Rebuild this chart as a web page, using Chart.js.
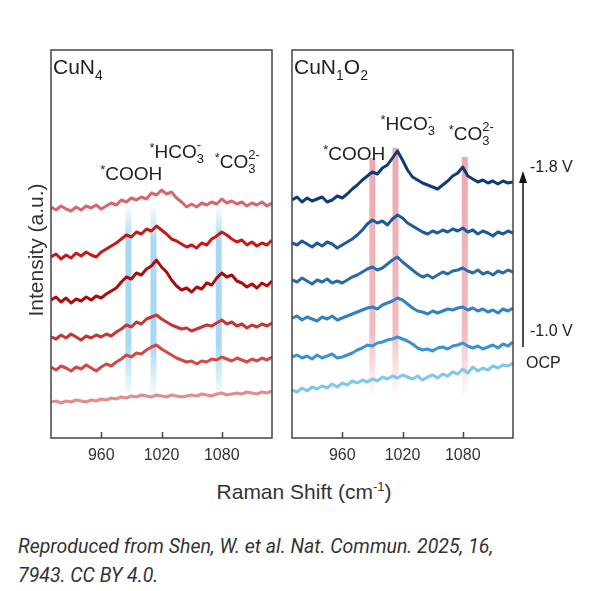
<!DOCTYPE html>
<html>
<head>
<meta charset="utf-8">
<script src="https://cdn.jsdelivr.net/npm/chart.js@4.4.1/dist/chart.umd.min.js"></script>
<style>
body{margin:0;background:#fff;}
#wrap{position:relative;width:600px;height:591px;background:#fff;font-family:"Liberation Sans",Arial,sans-serif;color:#333;overflow:hidden;}
canvas{position:absolute;}
#cL{left:41px;top:40px;}
#cR{left:282px;top:40px;}
.t{position:absolute;white-space:nowrap;}
#ytitle{left:-64px;top:238px;width:200px;height:24px;line-height:24px;text-align:center;font-size:21px;transform:rotate(-90deg);}
#xtitle{left:154px;top:480px;width:300px;height:24px;line-height:24px;text-align:center;font-size:21px;}
#xtitle sup{font-size:13px;vertical-align:8px;line-height:0;}
#cap{left:18px;top:532px;font-family:Roboto,"Liberation Sans",sans-serif;font-style:italic;font-size:19.5px;line-height:29px;color:#333;}
</style>
</head>
<body>
<div id="wrap">
<canvas id="cL" width="241" height="438"></canvas>
<canvas id="cR" width="318" height="438"></canvas>
<div class="t" id="ytitle">Intensity (a.u.)</div>
<div class="t" id="xtitle">Raman Shift (cm<sup>-1</sup>)</div>
<div class="t" id="cap">Reproduced from Shen, W. et al. Nat. Commun. 2025, 16,<br>7943. CC BY 4.0.</div>
</div>
<script>
// raman shift (cm-1) sampled along both panels
var ramanShift = [910,915,920,925,930,935,940,945,950,955,960,965,970,975,980,985,990,995,1000,1005,
  1010,1015,1020,1025,1030,1035,1040,1045,1050,1055,1060,1065,1070,1075,1080,1085,1090,1095,1100,1105,
  1110,1115,1120,1125,1130];
var tickValues = [960, 1020, 1080];

// CuN4, top trace first (offset intensities, a.u.)
var cuN4_1 = [231,228,232,229,227,231,228,232,230,233,229,232,235,233,238,236,240,238,241,239,245,243,248,244,246,240,236,231,234,231,235,233,236,234,239,235,237,234,236,232,235,233,236,232,235];
var cuN4_2 = [181,184,179,183,180,185,182,186,183,181,186,189,192,195,199,203,201,206,204,209,207,212,208,204,199,197,194,191,193,190,195,193,199,202,206,203,199,196,198,193,196,192,195,193,198];
var cuN4_3 = [138,141,136,140,135,139,137,141,138,142,140,144,147,150,156,161,159,165,163,169,172,178,171,166,158,152,148,150,146,151,149,155,153,160,165,161,163,157,155,151,154,150,155,152,157];
var cuN4_4 = [101,99,103,100,104,101,98,102,100,103,101,104,102,106,109,113,111,116,114,119,121,123,119,116,113,111,109,110,107,109,111,113,112,115,118,114,116,112,114,110,113,111,114,112,115];
var cuN4_5 = [71,68,72,70,67,71,69,73,70,67,71,74,72,76,79,83,81,85,84,88,91,93,89,86,83,80,78,76,77,74,77,76,79,78,81,79,77,80,78,76,79,77,80,78,81];
var cuN4_6 = [36,37,35,37,36,38,37,36,38,37,39,38,40,39,41,40,42,41,43,42,41,43,42,41,43,42,41,42,43,42,44,43,42,44,45,43,44,45,44,46,45,44,46,45,47];

// CuN1O2, -1.8 V at top down to OCP
var cuN1O2_1 = [238,241,236,240,237,239,241,236,238,242,240,244,249,253,258,262,266,264,270,273,280,287,278,268,261,258,255,253,251,249,253,257,262,265,271,262,259,256,258,255,257,254,257,255,256];
var cuN1O2_2 = [195,193,197,194,191,195,192,196,194,190,193,196,199,203,208,214,218,215,217,213,219,223,220,215,212,209,206,204,207,205,208,206,209,207,210,206,208,204,207,205,202,206,204,207,205];
var cuN1O2_3 = [158,156,160,157,154,158,156,159,155,157,155,158,161,163,166,169,171,168,170,174,178,181,176,172,168,164,161,163,160,163,166,164,167,168,170,167,165,168,164,166,163,167,165,168,166];
var cuN1O2_4 = [120,122,118,121,119,117,121,119,122,118,120,122,124,126,128,130,131,129,133,135,137,140,138,134,130,127,126,124,127,125,127,129,128,130,131,128,130,127,129,126,128,125,129,127,130];
var cuN1O2_5 = [81,83,80,82,79,83,80,82,84,80,81,83,85,88,90,93,92,95,96,98,99,101,99,97,94,90,88,89,87,90,91,89,92,93,95,92,90,92,89,91,93,90,94,92,96];
var cuN1O2_6 = [48,46,50,47,51,49,52,50,54,51,55,53,57,55,58,56,59,57,61,59,62,60,63,61,59,62,58,61,63,60,64,62,66,64,69,65,71,67,70,68,72,70,73,72,75];

// marked band positions (cm-1)
var cuN4Bands = [987, 1012, 1077];
var cuN1O2Bands = [990, 1013, 1082];
var cuN1O2BandTop = [280, 290, 281];

var peakNames = ['COOH', 'HCO3-', 'CO32-'];
var voltageLabels = ['-1.8 V', '-1.0 V', 'OCP'];

var FONT = '"Liberation Sans", Arial, sans-serif';

// label pieces: n = normal, st = raised star, sub, pair = sub with charge above
function labelParts(name) {
    if (name === 'COOH') return [['st', '*'], ['n', 'COOH']];
    if (name === 'HCO3-') return [['st', '*'], ['n', 'HCO'], ['pair', '3', '-']];
    return [['st', '*'], ['n', 'CO'], ['pair', '3', '2-']];
}

function drawRich(ctx, x, y, parts, size) {
    ctx.save();
    ctx.textAlign = 'left';
    ctx.textBaseline = 'alphabetic';
    ctx.fillStyle = '#222';
    var cx = x, small = Math.round(size * 0.66);
    parts.forEach(function(p){
        if (p[0] === 'n') {
            ctx.font = size + 'px ' + FONT;
            ctx.fillText(p[1], cx, y);
            cx += ctx.measureText(p[1]).width;
        } else if (p[0] === 'st') {
            ctx.font = small + 'px ' + FONT;
            ctx.fillText(p[1], cx, y - size * 0.32);
            cx += ctx.measureText(p[1]).width;
        } else if (p[0] === 'sub') {
            ctx.font = small + 'px ' + FONT;
            ctx.fillText(p[1], cx, y + size * 0.28);
            cx += ctx.measureText(p[1]).width;
        } else {
            ctx.font = small + 'px ' + FONT;
            ctx.fillText(p[1], cx, y + size * 0.28);
            ctx.fillText(p[2], cx, y - size * 0.48);
        }
    });
    ctx.restore();
}

var panelPlugin = {
    id: 'panel',
    beforeDatasetsDraw: function(chart, args, o) {
        var ctx = chart.ctx, xs = chart.scales.x, ys = chart.scales.y;
        ctx.save();
        o.bands.forEach(function(b, i){
            var px = xs.getPixelForValue(b);
            var top = ys.getPixelForValue(o.bandTop[i]);
            var bot = ys.getPixelForValue(o.bandBottom);
            var g = ctx.createLinearGradient(0, top, 0, bot);
            if (o.fadeTop) {
                g.addColorStop(0, o.bandColor + '0)');
                g.addColorStop(0.2, o.bandColor + '0.6)');
            } else {
                g.addColorStop(0, o.bandColor + '0.75)');
            }
            g.addColorStop(0.72, o.bandColor + '0.6)');
            g.addColorStop(1, o.bandColor + '0)');
            ctx.fillStyle = g;
            ctx.fillRect(px - 3, top, 6, bot - top);
        });
        ctx.restore();
    },
    afterDraw: function(chart, args, o) {
        var ctx = chart.ctx, a = chart.chartArea, xs = chart.scales.x, ys = chart.scales.y;
        ctx.save();
        ctx.strokeStyle = '#444';
        ctx.lineWidth = 1.5;
        ctx.strokeRect(a.left, a.top, a.right - a.left, a.bottom - a.top);
        tickValues.forEach(function(v){
            var px = Math.round(xs.getPixelForValue(v)) + 0.5;
            ctx.beginPath();
            ctx.moveTo(px, a.bottom);
            ctx.lineTo(px, a.bottom - 6);
            ctx.stroke();
        });
        drawRich(ctx, a.left + 2, a.top + 24, o.title, 21);
        o.labelSpots.forEach(function(s, i){
            drawRich(ctx, xs.getPixelForValue(s[0]), ys.getPixelForValue(s[1]), labelParts(peakNames[i]), 19);
        });
        if (o.arrow) {
            var ax = a.right + 10;
            ctx.strokeStyle = '#111';
            ctx.fillStyle = '#111';
            ctx.lineWidth = 1.5;
            ctx.beginPath();
            ctx.moveTo(ax, 307);
            ctx.lineTo(ax, 140);
            ctx.stroke();
            ctx.beginPath();
            ctx.moveTo(ax, 131);
            ctx.lineTo(ax - 4, 143);
            ctx.lineTo(ax + 4, 143);
            ctx.closePath();
            ctx.fill();
            ctx.font = '16px ' + FONT;
            ctx.fillStyle = '#222';
            ctx.textBaseline = 'middle';
            ctx.fillText(voltageLabels[0], ax + 7, 128);
            ctx.fillText(voltageLabels[1], ax + 7, 292);
            ctx.fillText(voltageLabels[2], ax + 3, 324);
        }
        ctx.restore();
    }
};

function createPanel(id, series, colors, padRight, panelOpts) {
    var datasets = series.map(function(s, i){
        return {
            data: ramanShift.map(function(x, j){ return {x: x, y: s[j]}; }),
            borderColor: colors[i],
            borderWidth: 3,
            borderJoinStyle: 'round',
            pointRadius: 0,
            tension: 0,
            fill: false
        };
    });
    return new Chart(document.getElementById(id).getContext('2d'), {
        type: 'line',
        data: { datasets: datasets },
        options: {
            responsive: false,
            animation: false,
            layout: { padding: { left: 10, right: padRight, top: 10, bottom: 0 } },
            scales: {
                x: {
                    type: 'linear', min: 910, max: 1130,
                    afterBuildTicks: function(s){ s.ticks = tickValues.map(function(v){ return {value: v}; }); },
                    afterFit: function(s){ s.height = 40; },
                    grid: { display: false },
                    border: { display: false },
                    ticks: { color: '#333', font: { size: 16, family: FONT }, padding: 0, maxRotation: 0, autoSkip: false,
                             callback: function(v){ return String(v); } }
                },
                y: { display: false, min: 0, max: 388 }
            },
            plugins: {
                legend: { display: false },
                tooltip: { enabled: false },
                panel: panelOpts
            }
        },
        plugins: [panelPlugin]
    });
}

var leftChart = createPanel('cL',
    [cuN4_1, cuN4_2, cuN4_3, cuN4_4, cuN4_5, cuN4_6],
    ['#d9666e', '#c41a1a', '#ad0c0c', '#c73535', '#cf4a4a', '#e38c8c'],
    10,
    {
        title: [['n', 'CuN'], ['sub', '4']],
        bands: cuN4Bands, bandTop: [235, 235, 235], bandBottom: 38,
        bandColor: 'rgba(110,190,240,', fadeTop: true,
        labelSpots: [[959, 258], [1008, 280], [1073, 270]],
        arrow: false
    });

var rightChart = createPanel('cR',
    [cuN1O2_1, cuN1O2_2, cuN1O2_3, cuN1O2_4, cuN1O2_5, cuN1O2_6],
    ['#0f3c78', '#1e5a9a', '#2b6ca8', '#3580c0', '#3d92d0', '#80c6ee'],
    87,
    {
        title: [['n', 'CuN'], ['sub', '1'], ['n', 'O'], ['sub', '2']],
        bands: cuN1O2Bands, bandTop: cuN1O2BandTop, bandBottom: 40,
        bandColor: 'rgba(232,140,148,', fadeTop: false,
        labelSpots: [[941, 278], [998, 308], [1066, 298]],
        arrow: true
    });
</script>
</body>
</html>
